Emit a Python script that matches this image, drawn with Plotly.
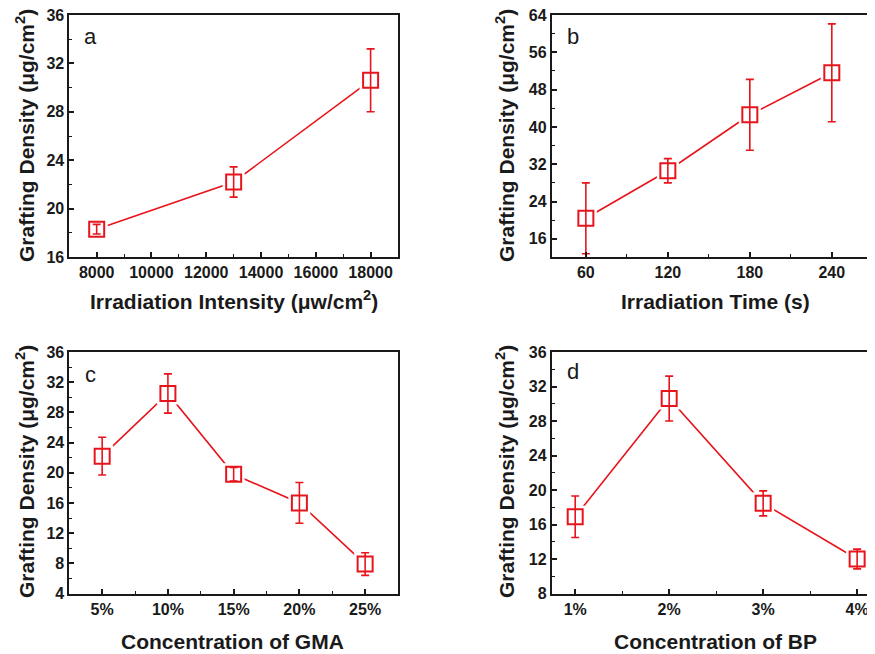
import plotly.graph_objects as go

# ---- data ----
a_x = [8000, 13000, 18000]
a_ticks = [8000, 10000, 12000, 14000, 16000, 18000]
a_y = [18.3, 22.2, 30.6]
a_err = [0.4, 1.25, 2.6]

b_x = [60, 120, 180, 240]
b_y = [20.4, 30.6, 42.6, 51.6]
b_err = [7.6, 2.6, 7.6, 10.5]

c_x = [5, 10, 15, 20, 25]
c_labels = ["5%", "10%", "15%", "20%", "25%"]
c_y = [22.2, 30.5, 19.8, 16.0, 7.9]
c_err = [2.5, 2.6, 0.9, 2.7, 1.5]

d_x = [1, 2, 3, 4]
d_labels = ["1%", "2%", "3%", "4%"]
d_y = [16.9, 30.6, 18.45, 12.0]
d_err = [2.4, 2.6, 1.45, 1.15]

RED = "#e8141c"
INK = "#1a1a1a"
FONT = "Arial, Liberation Sans, sans-serif"
OFF = 8  # page body margin
W, H = 875 - OFF, 654 - OFF

fig = go.Figure()

def add_series(x, y, err, xa, ya):
    fig.add_trace(go.Scatter(x=x, y=y, mode="lines", line=dict(color=RED, width=1.6),
                             xaxis=xa, yaxis=ya, showlegend=False, hoverinfo="skip"))
    fig.add_trace(go.Scatter(x=x, y=y, mode="markers",
                             marker=dict(symbol="square", size=22, color="white", line=dict(width=0)),
                             xaxis=xa, yaxis=ya, showlegend=False, hoverinfo="skip"))
    fig.add_trace(go.Scatter(x=x, y=y, mode="markers",
                             marker=dict(symbol="square-open", size=15, color=RED, line=dict(width=2, color=RED)),
                             error_y=dict(type="data", array=err, visible=True, color=RED, thickness=1.6, width=4),
                             xaxis=xa, yaxis=ya, showlegend=False))

add_series(a_x, a_y, a_err, "x", "y")
add_series(b_x, b_y, b_err, "x2", "y2")
add_series(c_x, c_y, c_err, "x3", "y3")
add_series(d_x, d_y, d_err, "x4", "y4")

def px_x(p):
    return (p - OFF) / W

def px_y(p):
    return 1 - (p - OFF) / H

tickfont = dict(family=FONT, size=16, color=INK, weight="bold")

def xaxis(domain, rng, tickvals, ticktext, minor_dtick, minor_tick0, anchor):
    return dict(domain=domain, range=rng, anchor=anchor, tickmode="array", tickvals=tickvals,
                ticktext=ticktext, ticks="inside", ticklen=5, tickwidth=1.5, tickcolor=INK,
                minor=dict(ticks="inside", ticklen=3, tickwidth=1.3, tickcolor=INK, dtick=minor_dtick,
                           tick0=minor_tick0, showgrid=False),
                showline=True, linecolor=INK, linewidth=1.8, mirror=True, automargin=False,
                ticklabeloverflow="allow",
                showgrid=False, zeroline=False, tickfont=tickfont, fixedrange=True)

def yaxis(domain, rng, tick0, dtick, anchor, mirror=True):
    return dict(domain=domain, range=rng, anchor=anchor, tickmode="linear", tick0=tick0, dtick=dtick,
                ticks="inside", ticklen=5, tickwidth=1.5, tickcolor=INK,
                minor=dict(ticks="inside", ticklen=3, tickwidth=1.3, tickcolor=INK, dtick=dtick / 2,
                           tick0=tick0, showgrid=False),
                showline=True, linecolor=INK, linewidth=1.8, mirror=mirror, automargin=False,
                ticklabeloverflow="allow",
                showgrid=False, zeroline=False, tickfont=tickfont, fixedrange=True)

dom_xl = [px_x(69.3), px_x(398)]
dom_xr = [px_x(551.7), 1.0]
dom_yt = [px_y(257), px_y(15)]
dom_yb = [px_y(593.5), px_y(352)]

fig.update_layout(
    width=W, height=H,
    margin=dict(l=0, r=0, t=0, b=0, autoexpand=False),
    paper_bgcolor="white", plot_bgcolor="white",
    xaxis=xaxis(dom_xl, [7000, 19000], a_ticks, [str(v) for v in a_ticks], 1000, 8000, "y"),
    yaxis=yaxis(dom_yt, [16, 36], 16, 4, "x"),
    xaxis2=xaxis(dom_xr, [35, 271.6], b_x, [str(v) for v in b_x], 30, 30, "y2"),
    yaxis2=yaxis(dom_yt, [12.1, 64], 16, 8, "x2", mirror=False),
    xaxis3=xaxis(dom_xl, [2.5, 27.5], c_x, c_labels, 2.5, 5, "y3"),
    yaxis3=yaxis(dom_yb, [4, 36], 4, 4, "x3"),
    xaxis4=xaxis(dom_xr, [0.75, 4.19], d_x, d_labels, 0.5, 1, "y4"),
    yaxis4=yaxis(dom_yb, [8, 36], 8, 4, "x4", mirror=False),
)

title_font = dict(family=FONT, size=21, color=INK, weight="bold")
ytitle = "Grafting Density (μg/cm<sup>2</sup>)"
annotations = [
    dict(text=ytitle, x=px_x(25), y=px_y(136), textangle=-90),
    dict(text=ytitle, x=px_x(505), y=px_y(136), textangle=-90),
    dict(text=ytitle, x=px_x(25), y=px_y(472), textangle=-90),
    dict(text=ytitle, x=px_x(505), y=px_y(472), textangle=-90),
    dict(text="Irradiation Intensity (μw/cm<sup>2</sup>)", x=px_x(233.5), y=px_y(300)),
    dict(text="Irradiation Time (s)", x=px_x(715), y=px_y(302)),
    dict(text="Concentration of GMA", x=px_x(233), y=px_y(641)),
    dict(text="Concentration of BP", x=px_x(715), y=px_y(641)),
]
for an in annotations:
    an.update(xref="paper", yref="paper", showarrow=False, xanchor="center", yanchor="middle",
              font=title_font)
    fig.add_annotation(**an)

letter_font = dict(family=FONT, size=22, color=INK)
for txt, x, y in [("a", 90, 37), ("b", 573, 36), ("c", 90, 374), ("d", 573, 372)]:
    fig.add_annotation(text=txt, x=px_x(x), y=px_y(y), xref="paper", yref="paper", showarrow=False,
                       xanchor="center", yanchor="middle", font=letter_font)

fig.write_html("out.html")
